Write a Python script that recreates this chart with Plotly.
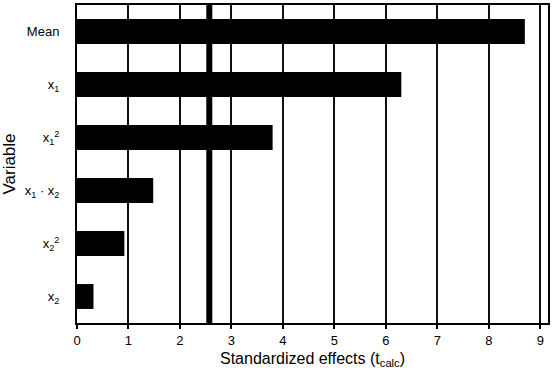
import plotly.graph_objects as go

categories = ["Mean", "x<sub>1</sub>", "x<sub>1</sub><sup>2</sup>", "x<sub>1</sub> · x<sub>2</sub>",
              "x<sub>2</sub><sup>2</sup>", "x<sub>2</sub>"]
effects = [8.7, 6.3, 3.8, 1.48, 0.92, 0.32]
t_crit = 2.57
x_ticks = [0, 1, 2, 3, 4, 5, 6, 7, 8, 9]

fig = go.Figure()
fig.add_trace(go.Bar(
    y=categories, x=effects, orientation="h",
    marker=dict(color="black", line=dict(width=0)),
    width=0.47,
))
fig.add_shape(type="line", xref="x", yref="paper", x0=t_crit, x1=t_crit, y0=0, y1=1,
              line=dict(color="black", width=6), layer="above")

fig.update_layout(
    width=553, height=381,
    margin=dict(l=77, r=5, t=5, b=58),
    plot_bgcolor="white", paper_bgcolor="white",
    showlegend=False,
    font=dict(family="Liberation Sans, Arial, sans-serif", color="black"),
    xaxis=dict(
        range=[0, 9.15], tickvals=x_ticks, ticks="outside", ticklen=4, tickwidth=1.5,
        tickcolor="black", automargin=False,
        showgrid=True, gridcolor="#111", gridwidth=1.5,
        showline=True, linecolor="black", linewidth=2, mirror=True,
        zeroline=False, tickfont=dict(size=13),
        title=dict(text="Standardized effects (t<sub>calc</sub>)", font=dict(size=16), standoff=6),
    ),
    yaxis=dict(
        categoryorder="array", categoryarray=categories[::-1],
        range=[-0.5, 5.5], automargin=False,
        showline=True, linecolor="black", linewidth=2, mirror=True,
        showgrid=False, zeroline=False, ticks="", tickfont=dict(size=13),
        ticklabelstandoff=13,
        title=dict(text="Variable", font=dict(size=17)),
    ),
    bargap=0.5,
)

fig.write_html("out.html", config={"displayModeBar": False},
               post_script="document.body.style.margin='0';document.body.style.overflow='hidden';")
